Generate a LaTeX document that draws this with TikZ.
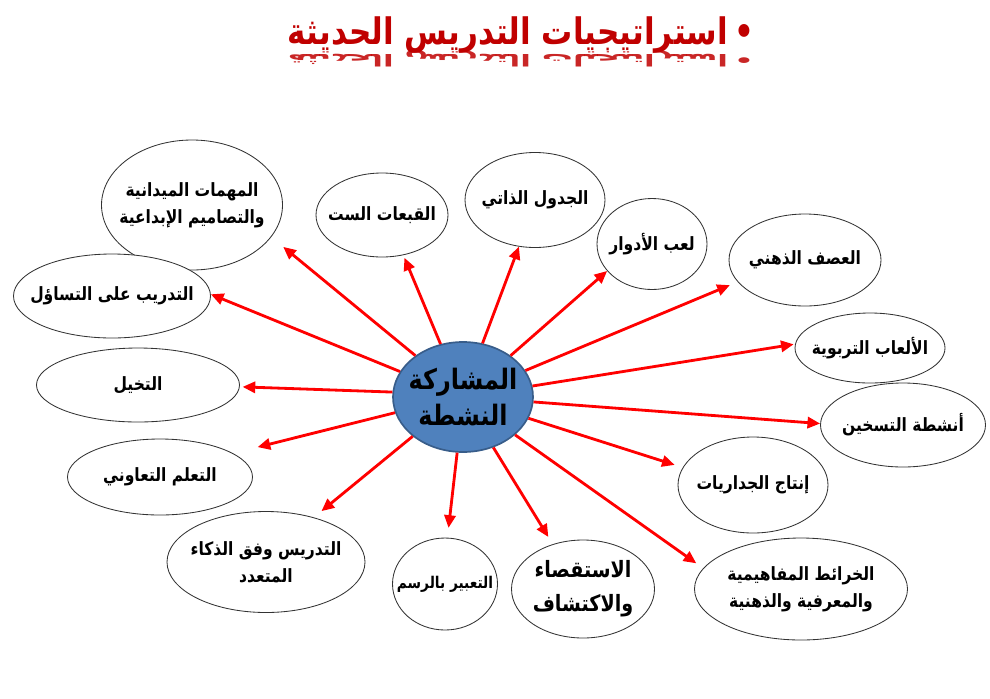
\documentclass[tikz,border=0pt]{standalone}
\usepackage{fontspec}
\newfontfamily\arabicfont[Script=Arabic, FakeStretch=0.85]{DejaVu Sans}
\TeXXeTstate=1
\usetikzlibrary{arrows.meta,shapes.geometric}
\definecolor{titlered}{HTML}{C00000}
\definecolor{arrowred}{HTML}{FF0000}
\definecolor{hubblue}{HTML}{4F81BD}
\definecolor{hubline}{HTML}{385D8A}
\tikzset{
  oval/.style 2 args={ellipse, draw=black!80, line width=0.6pt, fill=white, minimum width=#1*0.025cm, minimum height=#2*0.025cm, inner sep=0pt},
  txt/.style={font=\arabicfont\bfseries\fontsize{13}{19}\selectfont, align=center, inner sep=0pt},
  smalltxt/.style={txt, font=\arabicfont\bfseries\fontsize{11.5}{16}\selectfont},
  bigtxt/.style={txt, font=\arabicfont\bfseries\fontsize{16}{24}\selectfont},
  hubtxt/.style={txt, font=\arabicfont\bfseries\fontsize{20}{25}\selectfont},
  hub/.style={ellipse, draw=hubline, line width=1.2pt, fill=hubblue, minimum width=140*0.025cm, minimum height=110*0.025cm, inner sep=0pt},
  arrow/.style={-{Triangle[length=9pt,width=8pt]}, line width=2pt, draw=arrowred},
  heading/.style={font=\arabicfont\bfseries\fontsize{26}{30}\selectfont, text=titlered, inner sep=0pt}
}

\begin{document}
\begin{tikzpicture}[x=0.025cm, y=-0.025cm]
\useasboundingbox (0,0) rectangle (990,698);
% title and its mirror image
\node[heading] (title) at (521,35) {\beginR•\,استراتيجيات التدريس الحديثة\endR};
\begin{scope}[shift={(521,59)}, yscale=-0.45]
\node[heading, transform shape, opacity=0.85] (mirror) at (0,0) {\beginR•\,استراتيجيات التدريس الحديثة\endR};
\end{scope}

\node[hub, label={[hubtxt]center:\beginR المشاركة\endR\\\beginR النشطة\endR}] (hub) at (463,397) {};

\node[oval={181}{130}, label={[txt]center:\beginR المهمات الميدانية\endR\\\beginR والتصاميم الإبداعية\endR}] (tasks) at (192,205) {};
\node[oval={132}{84}, label={[txt]center:\beginR القبعات الست\endR}] (hats) at (382,215) {};
\node[oval={140}{95}, label={[txt]center:\beginR الجدول الذاتي\endR}] (selfgrid) at (535,200) {};
\node[oval={110}{91}, label={[txt]center:\beginR لعب الأدوار\endR}] (roles) at (652,244) {};
\node[oval={152}{92}, label={[txt]center:\beginR العصف الذهني\endR}] (brain) at (805,260) {};
\node[oval={150}{70}, label={[txt]center:\beginR الألعاب التربوية\endR}] (games) at (870,348) {};
\node[oval={165}{84}, label={[txt]center:\beginR أنشطة التسخين\endR}] (warm) at (903,425) {};
\node[oval={150}{96}, label={[txt]center:\beginR إنتاج الجداريات\endR}] (murals) at (753,485) {};
\node[oval={213}{102}, label={[txt]center:\beginR الخرائط المفاهيمية\endR\\\beginR والمعرفية والذهنية\endR}] (maps) at (801,589) {};
\node[oval={143}{98}, label={[bigtxt]center:\beginR الاستقصاء\endR\\\beginR والاكتشاف\endR}] (inquiry) at (583,589) {};
\node[oval={105}{92}, label={[smalltxt]center:\beginR التعبير بالرسم\endR}] (drawing) at (445,584) {};
\node[oval={198}{101}, label={[txt]center:\beginR التدريس وفق الذكاء\endR\\\beginR المتعدد\endR}] (multi) at (266,562) {};
\node[oval={185}{76}, label={[txt]center:\beginR التعلم التعاوني\endR}] (coop) at (160,477) {};
\node[oval={203}{74}, label={[txt]center:\beginR التخيل\endR}] (imagine) at (138,385) {};
\node[oval={197}{84}, label={[txt]center:\beginR التدريب على التساؤل\endR}] (question) at (112,296) {};

\draw[arrow, shorten >=11pt] (hub.139) -- (tasks.-22);
\draw[arrow, shorten >=2pt] (hub.113) -- (hats.-62);
\draw[arrow] (hub.70) -- (selfgrid.-109);
\draw[arrow] (hub.41) -- (roles.211);
\draw[arrow, shorten >=6pt] (hub.23) -- (brain.198);
\draw[arrow, shorten >=1pt] (hub.9) -- (games.177);
\draw[arrow] (hub.-4) -- (warm.179);
\draw[arrow, shorten >=6pt] (hub.-18) -- (murals.166);
\draw[arrow, shorten >=6pt] (hub.-36) -- (maps.168);
\draw[arrow, shorten >=6pt] (hub.-59) -- (inquiry.124);
\draw[arrow, shorten >=7pt] (hub.-96) -- (drawing.87);
\draw[arrow, shorten >=7pt] (hub.-142) -- (multi.43);
\draw[arrow, shorten >=18pt] (hub.-167) -- (coop.18);
\draw[arrow, shorten >=2pt] (hub.176) -- (imagine.-1);
\draw[arrow] (hub.158) -- (question.1);
\end{tikzpicture}
\end{document}
